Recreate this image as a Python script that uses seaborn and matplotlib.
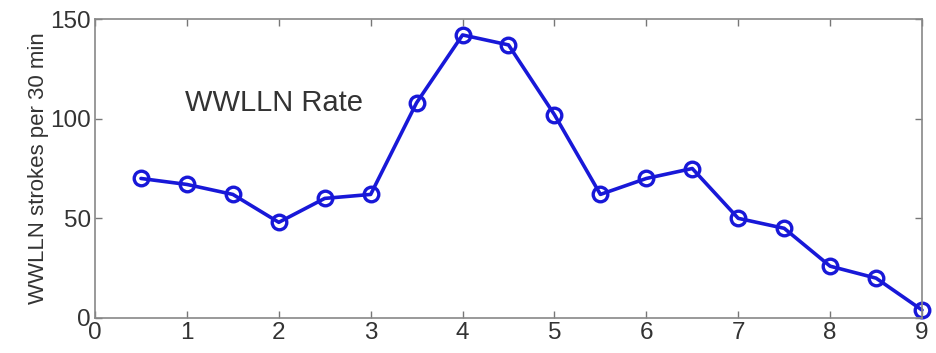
import matplotlib
matplotlib.use("Agg")
import matplotlib.pyplot as plt
import seaborn as sns
import pandas as pd

hours = [0.5, 1, 1.5, 2, 2.5, 3, 3.5, 4, 4.5, 5, 5.5, 6, 6.5, 7, 7.5, 8, 8.5, 9]
rate = [70, 67, 62, 48, 60, 62, 108, 142, 137, 102, 62, 70, 75, 50, 45, 26, 20, 4]
xticks = [0, 1, 2, 3, 4, 5, 6, 7, 8, 9]
yticks = [0, 50, 100, 150]

sns.set_style("white")
plt.rcParams['font.family'] = ['Liberation Sans', 'DejaVu Sans']

df = pd.DataFrame({"hour": hours, "rate": rate})
fig = plt.figure(figsize=(9.37, 3.53), dpi=100)
ax = fig.add_axes([95/937, 1 - 318/353, (922-95)/937, (318-19)/353])
col = "#1818d8"
sns.lineplot(data=df, x="hour", y="rate", ax=ax, color=col, linewidth=2.6,
             marker="o", markersize=10.5, markerfacecolor="none",
             markeredgecolor=col, markeredgewidth=2.4, clip_on=False)
ax.set_xlim(0, 9)
ax.set_ylim(0, 150)
ax.set_xticks(xticks)
ax.set_yticks(yticks)
ax.set_xlabel("")
ax.set_ylabel("WWLLN strokes per 30 min", fontsize=16, color="#333333", labelpad=1)
ax.tick_params(direction="in", length=5, width=1, colors="#777777", labelcolor="#333333",
               labelsize=17.5, top=True, right=True, bottom=True, left=True, pad=3)
for s in ax.spines.values():
    s.set_color("#888888")
    s.set_linewidth(1.2)
ax.text(0.98, 108, "WWLLN Rate", fontsize=21, color="#333333", va="center", ha="left")
fig.savefig("out.png", dpi=100)
